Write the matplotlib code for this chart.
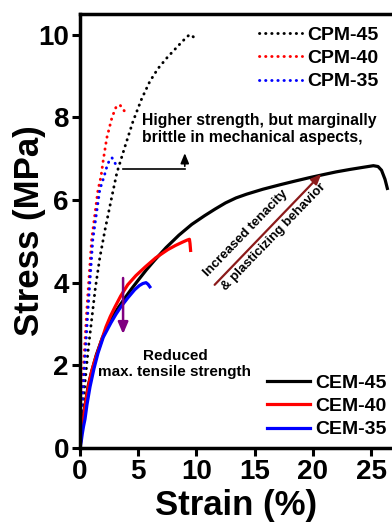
import matplotlib
matplotlib.use("Agg")
import matplotlib.pyplot as plt

plt.rcParams['font.family'] = ['Liberation Sans', 'DejaVu Sans']
plt.rcParams['font.weight'] = 'bold'

# ---- data ----
cem45_x = [0, 0.1, 0.3, 0.5, 0.7, 1.0, 1.4, 1.9, 2.66, 3.3, 3.86, 4.4, 5.0, 5.7, 6.4, 7.4, 8.5, 9.6,
           10.7, 11.6, 12.5, 13.4, 14.3, 15.7, 17.2, 18.5, 19.7, 21.0, 22.0, 23.2, 24.3, 25.2, 25.6, 25.9, 26.2, 26.4]
cem45_y = [0, 0.35, 0.8, 1.15, 1.5, 1.85, 2.25, 2.65, 3.12, 3.4, 3.63, 3.84, 4.06, 4.31, 4.54, 4.85, 5.15, 5.41,
           5.62, 5.78, 5.93, 6.05, 6.14, 6.26, 6.37, 6.46, 6.54, 6.62, 6.68, 6.74, 6.79, 6.83, 6.81, 6.72, 6.5, 6.28]

cem40_x = [0, 0.1, 0.25, 0.4, 0.6, 0.8, 1.0, 1.25, 1.55, 1.9, 2.23, 2.6, 3.0, 3.5, 4.1, 4.8, 5.6, 6.5,
           7.55, 8.2, 8.8, 9.2, 9.4, 9.45, 9.5]
cem40_y = [0, 0.3, 0.6, 0.95, 1.3, 1.6, 1.85, 2.1, 2.35, 2.65, 2.93, 3.18, 3.41, 3.68, 3.95, 4.17, 4.38, 4.6,
           4.8, 4.9, 4.98, 5.03, 5.05, 4.95, 4.78]

cem35_x = [0, 0.1, 0.2, 0.3, 0.43, 0.6, 0.86, 1.2, 1.55, 2.0, 2.66, 3.1, 3.5, 4.1, 4.7, 5.1, 5.4, 5.67, 5.85, 6.0]
cem35_y = [0, 0.15, 0.35, 0.52, 0.7, 1.05, 1.48, 1.92, 2.3, 2.68, 3.03, 3.24, 3.41, 3.63, 3.83, 3.93, 3.98, 4.0, 3.96, 3.9]

cpm45_x = [0, 0.1, 0.26, 0.45, 0.7, 1.0, 1.3, 1.7, 2.15, 2.75, 3.17, 3.86, 4.55, 5.3, 6.0, 6.7, 7.5, 8.2, 8.8, 9.4, 9.6, 9.8]
cpm45_y = [0, 0.45, 1.0, 1.65, 2.37, 3.1, 3.83, 4.6, 5.28, 6.1, 6.66, 7.29, 7.9, 8.45, 8.87, 9.18, 9.45, 9.66, 9.84, 10.0, 9.98, 9.93]

cpm40_x = [0, 0.1, 0.26, 0.6, 1.0, 1.55, 1.8, 2.0, 2.3, 2.75, 3.1, 3.43, 3.95]
cpm40_y = [0, 0.8, 1.8, 3.4, 5.04, 6.25, 6.56, 6.97, 7.5, 8.0, 8.25, 8.3, 8.1]

cpm35_x = [0, 0.15, 0.35, 0.7, 1.1, 1.7, 2.06, 2.3, 2.55, 2.75, 3.0, 3.17]
cpm35_y = [0, 0.9, 1.8, 3.4, 5.04, 6.25, 6.56, 6.8, 6.98, 7.02, 6.9, 6.8]

x_ticks = [0, 5, 10, 15, 20, 25]
y_ticks = [0, 2, 4, 6, 8, 10]

fig = plt.figure(figsize=(3.92, 5.25), dpi=100)
ax = fig.add_axes([80/392, 77/525, 1 - 80/392, (448 - 14)/525])

dot = (0, (0.1, 2.0))
ln_cpm45, = ax.plot(cpm45_x, cpm45_y, color='black', lw=2.1, linestyle=dot, dash_capstyle='round', label='CPM-45')
ln_cpm40, = ax.plot(cpm40_x, cpm40_y, color='red', lw=2.1, linestyle=dot, dash_capstyle='round', label='CPM-40')
ln_cpm35, = ax.plot(cpm35_x, cpm35_y, color='blue', lw=2.1, linestyle=dot, dash_capstyle='round', label='CPM-35')
ln_cem45, = ax.plot(cem45_x, cem45_y, color='black', lw=2.3, label='CEM-45')
ln_cem40, = ax.plot(cem40_x, cem40_y, color='red', lw=2.3, label='CEM-40')
ln_cem35, = ax.plot(cem35_x, cem35_y, color='blue', lw=2.3, label='CEM-35')

ax.set_xlim(0, 26.8)
ax.set_ylim(0, 10.5)
ax.set_xticks(x_ticks)
ax.set_yticks(y_ticks)
ax.tick_params(axis='both', direction='out', length=6, width=2.2, labelsize=20, pad=2)
for lab in ax.get_xticklabels() + ax.get_yticklabels():
    lab.set_fontweight('bold')
for s in ['left', 'bottom', 'top']:
    ax.spines[s].set_linewidth(2.5)
ax.spines['right'].set_visible(False)

ax.set_xlabel('Strain (%)', fontsize=25, fontweight='bold', labelpad=3)
ax.set_ylabel('Stress (MPa)', fontsize=25, fontweight='bold', labelpad=-6)

leg1 = fig.legend(handles=[ln_cpm45, ln_cpm40, ln_cpm35], loc='upper left',
                  bbox_to_anchor=(259/392, 1 - 26/525), frameon=False, fontsize=14,
                  handlelength=2.2, handletextpad=0.3, labelspacing=0.3, borderpad=0, borderaxespad=0)
leg2 = fig.legend(handles=[ln_cem45, ln_cem40, ln_cem35], loc='upper left',
                  bbox_to_anchor=(267/392, 1 - 374/525), frameon=False, fontsize=14,
                  handlelength=2.2, handletextpad=0.3, labelspacing=0.3, borderpad=0, borderaxespad=0)
for t in leg1.get_texts() + leg2.get_texts():
    t.set_fontweight('bold')

# annotations
ax.text(5.3, 7.72, 'Higher strength, but marginally\nbrittle in mechanical aspects,',
        fontsize=11.3, fontweight='bold', ha='left', va='center', linespacing=1.15)
ax.plot([3.7, 9.0], [6.76, 6.76], color='black', lw=1.2)
ax.annotate('', xy=(9.0, 7.2), xytext=(9.0, 6.75),
            arrowprops=dict(arrowstyle='-|>,head_length=0.6,head_width=0.25', color='black', lw=1.2))

ax.text(8.15, 2.03, 'Reduced\nmax. tensile strength', fontsize=11, fontweight='bold',
        ha='center', va='center', linespacing=1.15)
ax.annotate('', xy=(3.7, 2.69), xytext=(3.7, 4.18),
            arrowprops=dict(arrowstyle='-|>,head_length=0.7,head_width=0.3', color='#800080', lw=1.8))

ax.annotate('', xy=(20.9, 6.68), xytext=(11.4, 3.9),
            arrowprops=dict(arrowstyle='-|>,head_length=0.6,head_width=0.25', color='#8b1a1a', lw=1.6))
ax.text(14.25, 5.2, 'Increased tenacity', fontsize=9.5, fontweight='bold', rotation=46,
        ha='center', va='center', rotation_mode='anchor')
ax.text(16.6, 5.1, '& plasticizing behavior', fontsize=9.5, fontweight='bold', rotation=46,
        ha='center', va='center', rotation_mode='anchor')

fig.savefig('out.png', dpi=100)
